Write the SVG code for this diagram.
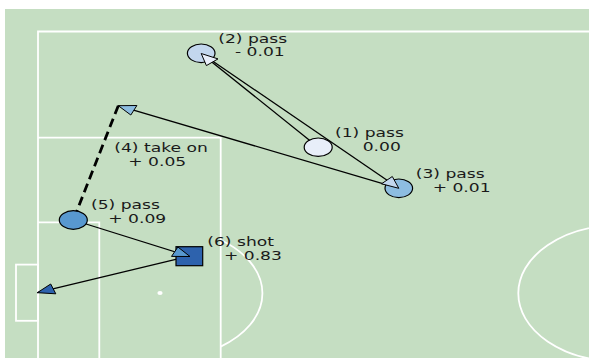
<svg xmlns="http://www.w3.org/2000/svg" width="589" height="358" viewBox="0 0 589 358">
<style>
.pl{fill:none;stroke:#ffffff;stroke-width:1.8}
.sh{stroke:#000;stroke-width:1.3;fill:none}
.hd{stroke:#000;stroke-width:1;stroke-linejoin:miter}
.nd{stroke:#000;stroke-width:1.2}
.lb{font-family:"DejaVu Sans",sans-serif;font-size:12.5px;fill:#1a1a1a}
</style>
<rect x="0" y="0" width="589" height="358" fill="#ffffff"/>
<g id="pitch">
<rect x="5" y="9" width="584" height="349" fill="#c5dec2"/>
<path class="pl" d="M38,358 V31.5 H589"/>
<path class="pl" d="M38,137.7 H220.7 V358"/>
<path class="pl" d="M38,222.3 H99.3 V358"/>
<rect class="pl" x="16" y="264.6" width="22" height="56.2"/>
<ellipse cx="160" cy="293" rx="2.6" ry="2" fill="#ffffff"/>
<path class="pl" d="M220.7,240 A101.7,66 0 0 1 220.7,346.6"/>
<ellipse class="pl" cx="618.3" cy="293.3" rx="100" ry="68"/>
</g>
<g id="connectors">
<line class="sh" x1="318.2" y1="147.2" x2="201.2" y2="53.5"/>
<line class="sh" x1="201.2" y1="53.2" x2="398.8" y2="188.3"/>
<line class="sh" x1="398.8" y1="188.3" x2="118.3" y2="105.7"/>
<line x1="118.3" y1="105.7" x2="73.3" y2="220" stroke="#000" stroke-width="2.8" stroke-dasharray="9,5"/>
<line class="sh" x1="73.3" y1="220" x2="190" y2="256.5"/>
<line class="sh" x1="189.3" y1="256.2" x2="37.3" y2="292.7"/>
</g>
<g id="node1"><ellipse class="nd" cx="318.2" cy="147.2" rx="14" ry="9.2" fill="#e8eef9"/></g>
<g id="node2"><ellipse class="nd" cx="201.2" cy="53.3" rx="13.8" ry="9.3" fill="#c3d7ee"/></g>
<g id="node3"><ellipse class="nd" cx="398.8" cy="188.3" rx="13.8" ry="9.3" fill="#8dbde1"/></g>
<g id="node5"><ellipse class="nd" cx="73.3" cy="220" rx="14" ry="9.3" fill="#5898cf"/></g>
<g id="node6"><rect class="nd" x="176" y="246.7" width="26.7" height="19" fill="#2d62ad"/></g>
<g id="arrowheads">
<polygon class="hd" points="201.2,53.5 218,58.9 206.4,65.6" fill="#e8eef9"/>
<polygon class="hd" points="398.8,188.3 392.3,176.5 381.5,183.8" fill="#c3d7ee"/>
<polygon class="hd" points="118.3,105.7 136.9,105.5 130.8,115" fill="#8dbde1"/>
<polygon class="hd" points="190,256.5 177.9,247 171.5,256.4" fill="#5898cf"/>
<polygon class="hd" points="37.3,292.7 55.8,293.8 50.7,284" fill="#2d62ad"/>
</g>
<g id="labels">
<text class="lb" transform="translate(335,136.5) scale(1.37,1)">(1) pass</text>
<text class="lb" transform="translate(362.7,150.5) scale(1.37,1)">0.00</text>
<text class="lb" transform="translate(218.3,42.5) scale(1.37,1)">(2) pass</text>
<text class="lb" transform="translate(235,56) scale(1.37,1)">- 0.01</text>
<text class="lb" transform="translate(415.7,178.3) scale(1.37,1)">(3) pass</text>
<text class="lb" transform="translate(432.7,192.3) scale(1.37,1)">+ 0.01</text>
<text class="lb" transform="translate(114.3,151.7) scale(1.37,1)">(4) take on</text>
<text class="lb" transform="translate(128.3,165.7) scale(1.37,1)">+ 0.05</text>
<text class="lb" transform="translate(91,209.3) scale(1.37,1)">(5) pass</text>
<text class="lb" transform="translate(108.3,223.3) scale(1.37,1)">+ 0.09</text>
<text class="lb" transform="translate(207.3,246) scale(1.37,1)">(6) shot</text>
<text class="lb" transform="translate(224,260) scale(1.37,1)">+ 0.83</text>
</g>
</svg>
